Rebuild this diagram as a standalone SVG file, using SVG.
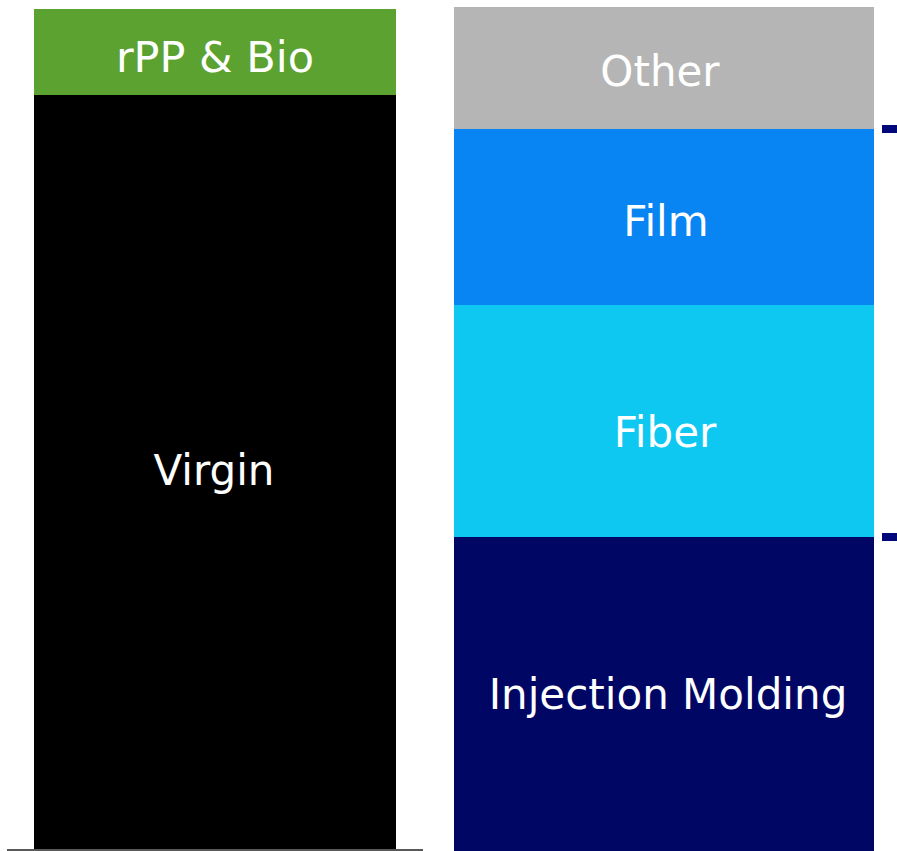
<svg xmlns="http://www.w3.org/2000/svg" width="897" height="851" viewBox="0 0 897 851">
<style>
.lbl{font-family:"DejaVu Sans","Verdana",sans-serif;font-size:42px;fill:#ffffff;text-anchor:middle}
.tick{fill:#00087a}
</style>
<rect width="897" height="851" fill="#ffffff"/>
<g id="virgin">
<rect x="34" y="95" width="362" height="756" fill="#000000"/>
<text class="lbl" x="214" y="485">Virgin</text>
</g>
<g id="rpp-bio">
<rect x="34" y="9" width="362" height="86" fill="#5ba230"/>
<text class="lbl" x="215" y="72" style="font-size:43px">rPP &amp; Bio</text>
</g>
<g id="other">
<rect x="454" y="7" width="420" height="122" fill="#b5b5b5"/>
<text class="lbl" x="660" y="86">Other</text>
</g>
<g id="film">
<rect x="454" y="129" width="420" height="176" fill="#0984f3"/>
<text class="lbl" x="666" y="236">Film</text>
</g>
<g id="fiber">
<rect x="454" y="305" width="420" height="232" fill="#0ec8f2"/>
<text class="lbl" x="665" y="447">Fiber</text>
</g>
<g id="injection-molding">
<rect x="454" y="537" width="420" height="314" fill="#000664"/>
<text class="lbl" x="668" y="709">Injection Molding</text>
</g>
<g id="connectors">
<rect class="tick" x="882" y="125" width="15" height="8"/>
<rect class="tick" x="882" y="533" width="15" height="8"/>
<rect x="7" y="849" width="416" height="2" fill="#595959"/>
</g>
</svg>
